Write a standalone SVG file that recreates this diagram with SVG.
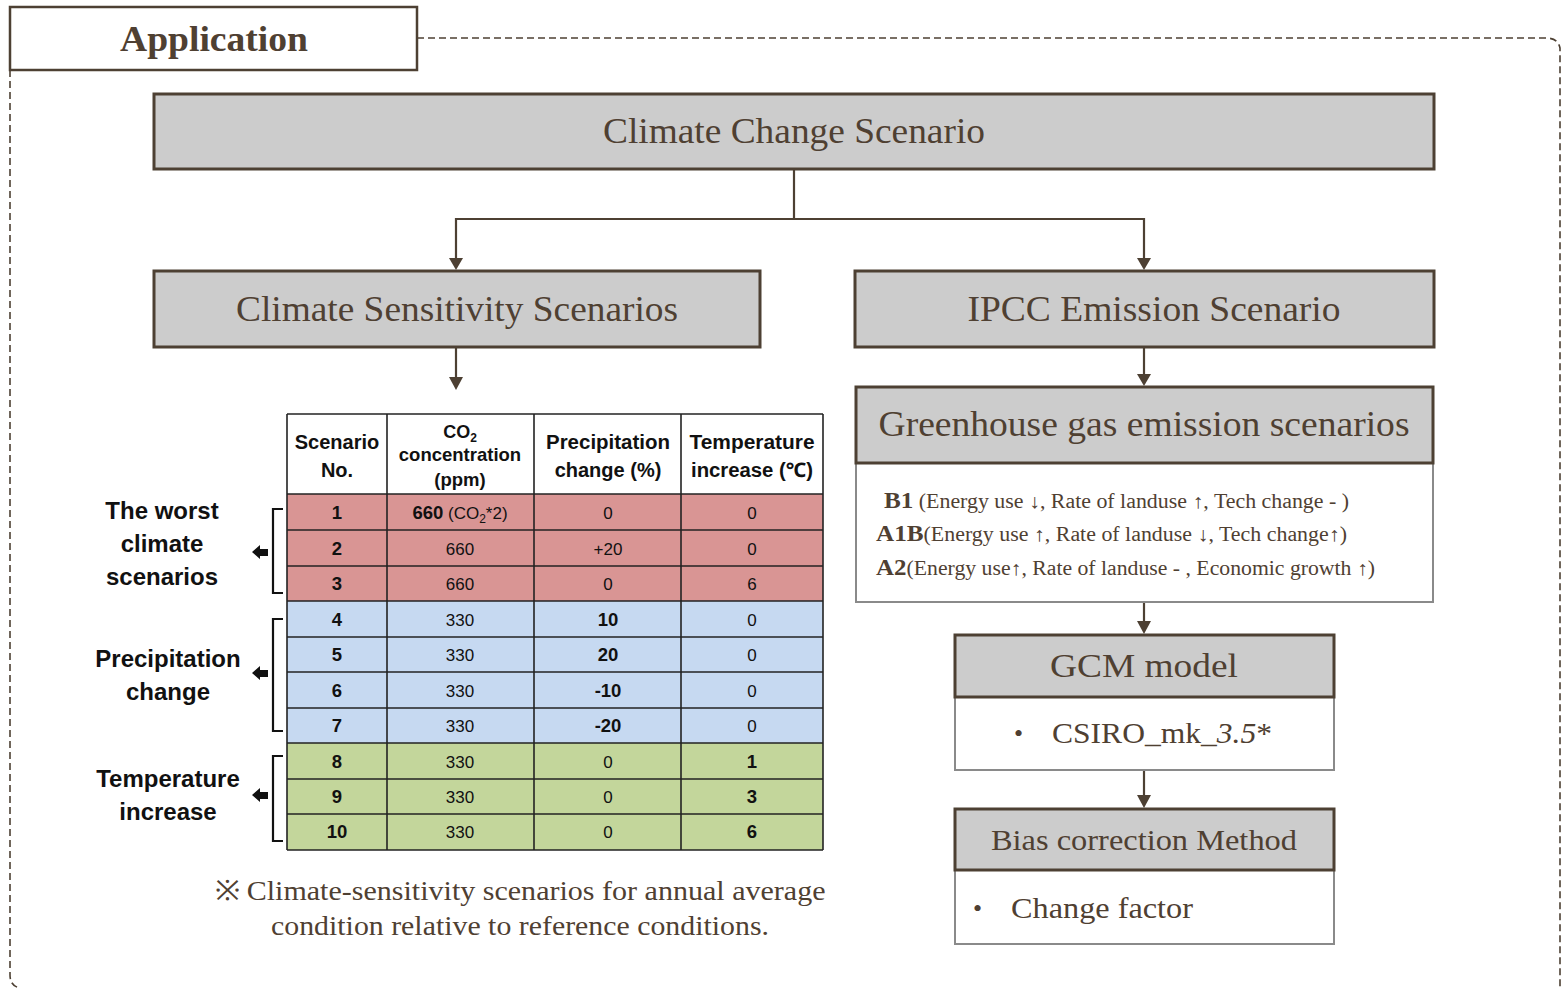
<svg xmlns="http://www.w3.org/2000/svg" width="1562" height="988" viewBox="0 0 1562 988">
<style>
.frame{fill:none;stroke:#4d4033;stroke-width:1.6;stroke-dasharray:7 4}
.hdr{fill:#cccccc;stroke:#4d4033;stroke-width:3}
.body{fill:#ffffff;stroke:#8a8a8a;stroke-width:2}
.st{font-family:"Liberation Serif",serif;fill:#4f4032}
.c{text-anchor:middle}
.conn{fill:none;stroke:#4d4033;stroke-width:2.2}
.cell{stroke:#222;stroke-width:1.6}
.tt{font-family:"Liberation Sans","Noto Sans",sans-serif;fill:#111;text-anchor:middle}
.lbl{font-family:"Liberation Sans","Noto Sans",sans-serif;fill:#111;text-anchor:middle;font-weight:bold;font-size:24px}
.br{fill:none;stroke:#111;stroke-width:2.2}
</style>
<rect width="1562" height="988" fill="#ffffff"/>

<g id="frame">
<path class="frame" d="M417,38 H1546 Q1558,38 1560,48 V988"/>
<path class="frame" d="M10,70 V975 Q10,986 20,988"/>
</g>

<g id="application">
<rect x="10" y="7" width="407" height="63" fill="#ffffff" stroke="#4d4033" stroke-width="2.5"/>
<text class="st c" x="214" y="51" font-size="36" font-weight="bold" textLength="188" lengthAdjust="spacingAndGlyphs">Application</text>
</g>

<g id="connectors">
<polyline class="conn" points="794,169 794,219 456,219 456,263" />
<path d="M449,258 L463,258 L456,270 z" fill="#4d4033"/>
<polyline class="conn" points="794,219 1144,219 1144,263"/>
<path d="M1137,258 L1151,258 L1144,270 z" fill="#4d4033"/>
<line class="conn" x1="456" y1="347" x2="456" y2="382"/>
<path d="M449,377 L463,377 L456,390 z" fill="#4d4033"/>
<line class="conn" x1="1144" y1="347" x2="1144" y2="380"/>
<path d="M1137,374 L1151,374 L1144,386 z" fill="#4d4033"/>
<line class="conn" x1="1144" y1="602" x2="1144" y2="628"/>
<path d="M1137,621 L1151,621 L1144,634 z" fill="#4d4033"/>
<line class="conn" x1="1144" y1="770" x2="1144" y2="802"/>
<path d="M1137,795 L1151,795 L1144,808 z" fill="#4d4033"/>
</g>

<g id="climate-change-scenario">
<rect class="hdr" x="154" y="94" width="1280" height="75"/>
<text class="st c" x="794" y="143" font-size="36" textLength="382" lengthAdjust="spacingAndGlyphs">Climate Change Scenario</text>
</g>

<g id="climate-sensitivity-scenarios">
<rect class="hdr" x="154" y="271" width="606" height="76"/>
<text class="st c" x="457" y="321" font-size="36" textLength="442" lengthAdjust="spacingAndGlyphs">Climate Sensitivity Scenarios</text>
</g>

<g id="ipcc-emission-scenario">
<rect class="hdr" x="855" y="271" width="579" height="76"/>
<text class="st c" x="1154" y="321" font-size="36" textLength="373" lengthAdjust="spacingAndGlyphs">IPCC Emission Scenario</text>
</g>

<g id="greenhouse">
<rect class="body" x="856" y="463" width="577" height="139"/>
<rect class="hdr" x="856" y="387" width="577" height="76"/>
<text class="st c" x="1144" y="436" font-size="36" textLength="531" lengthAdjust="spacingAndGlyphs">Greenhouse gas emission scenarios</text>
<text class="st" x="884" y="508" font-size="20" textLength="465" lengthAdjust="spacingAndGlyphs"><tspan font-weight="bold" font-size="23">B1</tspan> (Energy use ↓, Rate of landuse ↑, Tech change - )</text>
<text class="st" x="876" y="541" font-size="20" textLength="471" lengthAdjust="spacingAndGlyphs"><tspan font-weight="bold" font-size="23">A1B</tspan>(Energy use ↑, Rate of landuse ↓, Tech change↑)</text>
<text class="st" x="876" y="575" font-size="20" textLength="499" lengthAdjust="spacingAndGlyphs"><tspan font-weight="bold" font-size="23">A2</tspan>(Energy use↑, Rate of landuse - , Economic growth ↑)</text>
</g>

<g id="gcm-model">
<rect class="body" x="955" y="697" width="379" height="73"/>
<rect class="hdr" x="955" y="635" width="379" height="62"/>
<text class="st c" x="1144" y="677" font-size="34" textLength="188" lengthAdjust="spacingAndGlyphs">GCM model</text>
<text class="st" x="1014" y="742" font-size="26">•</text>
<text class="st" x="1052" y="743" font-size="30" textLength="220" lengthAdjust="spacingAndGlyphs">CSIRO_mk_<tspan font-style="italic">3.5</tspan>*</text>
</g>

<g id="bias-correction">
<rect class="body" x="955" y="870" width="379" height="74"/>
<rect class="hdr" x="955" y="809" width="379" height="61"/>
<text class="st c" x="1144" y="850" font-size="30" textLength="306" lengthAdjust="spacingAndGlyphs">Bias correction Method</text>
<text class="st" x="973" y="917" font-size="26">•</text>
<text class="st" x="1011" y="918" font-size="30" textLength="182" lengthAdjust="spacingAndGlyphs">Change factor</text>
</g>

<g id="table">
<rect x="287" y="414" width="536" height="80" fill="#ffffff"/>
<rect x="287" y="494" width="536" height="107" fill="#d99594"/>
<rect x="287" y="601" width="536" height="142" fill="#c6d9f1"/>
<rect x="287" y="743" width="536" height="107" fill="#c3d69b"/>
<g class="cell">
<line x1="287" y1="414" x2="823" y2="414"/>
<line x1="287" y1="494" x2="823" y2="494"/>
<line x1="287" y1="530" x2="823" y2="530"/>
<line x1="287" y1="566" x2="823" y2="566"/>
<line x1="287" y1="601" x2="823" y2="601"/>
<line x1="287" y1="637" x2="823" y2="637"/>
<line x1="287" y1="672" x2="823" y2="672"/>
<line x1="287" y1="708" x2="823" y2="708"/>
<line x1="287" y1="743" x2="823" y2="743"/>
<line x1="287" y1="779" x2="823" y2="779"/>
<line x1="287" y1="814" x2="823" y2="814"/>
<line x1="287" y1="850" x2="823" y2="850"/>
<line x1="287" y1="414" x2="287" y2="850"/>
<line x1="387" y1="414" x2="387" y2="850"/>
<line x1="534" y1="414" x2="534" y2="850"/>
<line x1="681" y1="414" x2="681" y2="850"/>
<line x1="823" y1="414" x2="823" y2="850"/>
</g>
<g class="tt" font-size="20" font-weight="bold" fill="#111">
<text x="337" y="449">Scenario</text>
<text x="337" y="477">No.</text>
<text x="460" y="438" font-size="18">CO<tspan font-size="12" dy="4">2</tspan></text>
<text x="460" y="461" font-size="18.5">concentration</text>
<text x="460" y="486" font-size="18.5">(ppm)</text>
<text x="608" y="449" textLength="124" lengthAdjust="spacingAndGlyphs">Precipitation</text>
<text x="608" y="477">change (%)</text>
<text x="752" y="449" textLength="125" lengthAdjust="spacingAndGlyphs">Temperature</text>
<text x="752" y="477" textLength="122" lengthAdjust="spacingAndGlyphs">increase (℃)</text>
</g>
<g class="tt" font-size="18.5" font-weight="bold">
<text x="337" y="519">1</text><text x="337" y="555">2</text><text x="337" y="590">3</text>
<text x="337" y="626">4</text><text x="337" y="661">5</text><text x="337" y="697">6</text>
<text x="337" y="732">7</text><text x="337" y="768">8</text><text x="337" y="803">9</text>
<text x="337" y="838">10</text>
<text x="608" y="626">10</text><text x="608" y="661">20</text><text x="608" y="697">-10</text><text x="608" y="732">-20</text>
<text x="752" y="768">1</text><text x="752" y="803">3</text><text x="752" y="838">6</text>
</g>
<g class="tt" font-size="17" fill="#222">
<text x="460" y="519"><tspan font-weight="bold" font-size="18.5" fill="#111">660</tspan> (CO<tspan font-size="12" dy="4">2</tspan><tspan dy="-4">*2)</tspan></text>
<text x="460" y="555">660</text><text x="460" y="590">660</text>
<text x="460" y="626">330</text><text x="460" y="661">330</text><text x="460" y="697">330</text><text x="460" y="732">330</text>
<text x="460" y="768">330</text><text x="460" y="803">330</text><text x="460" y="838">330</text>
<text x="608" y="519">0</text><text x="608" y="555">+20</text><text x="608" y="590">0</text>
<text x="608" y="768">0</text><text x="608" y="803">0</text><text x="608" y="838">0</text>
<text x="752" y="519">0</text><text x="752" y="555">0</text><text x="752" y="590">6</text>
<text x="752" y="626">0</text><text x="752" y="661">0</text><text x="752" y="697">0</text><text x="752" y="732">0</text>
</g>
</g>

<g id="group-worst">
<path class="br" d="M283,509 H273 V593 H283"/>
<path d="M252,552 L260,545 L260,549 L268,549 L268,556 L260,556 L260,559 z" fill="#111"/>
<text class="lbl" x="162" y="519">The worst</text>
<text class="lbl" x="162" y="552">climate</text>
<text class="lbl" x="162" y="585">scenarios</text>
</g>

<g id="group-precipitation">
<path class="br" d="M283,619 H273 V731 H283"/>
<path d="M252,673 L260,666 L260,670 L268,670 L268,677 L260,677 L260,680 z" fill="#111"/>
<text class="lbl" x="168" y="667">Precipitation</text>
<text class="lbl" x="168" y="700">change</text>
</g>

<g id="group-temperature">
<path class="br" d="M283,756 H273 V841 H283"/>
<path d="M252,795 L260,788 L260,792 L268,792 L268,799 L260,799 L260,802 z" fill="#111"/>
<text class="lbl" x="168" y="787">Temperature</text>
<text class="lbl" x="168" y="820">increase</text>
</g>

<g id="note">
<text class="st c" x="520" y="900" font-size="28" textLength="611" lengthAdjust="spacingAndGlyphs">※ Climate-sensitivity scenarios for annual average</text>
<text class="st c" x="520" y="935" font-size="28" textLength="498" lengthAdjust="spacingAndGlyphs">condition relative to reference conditions.</text>
</g>
</svg>
